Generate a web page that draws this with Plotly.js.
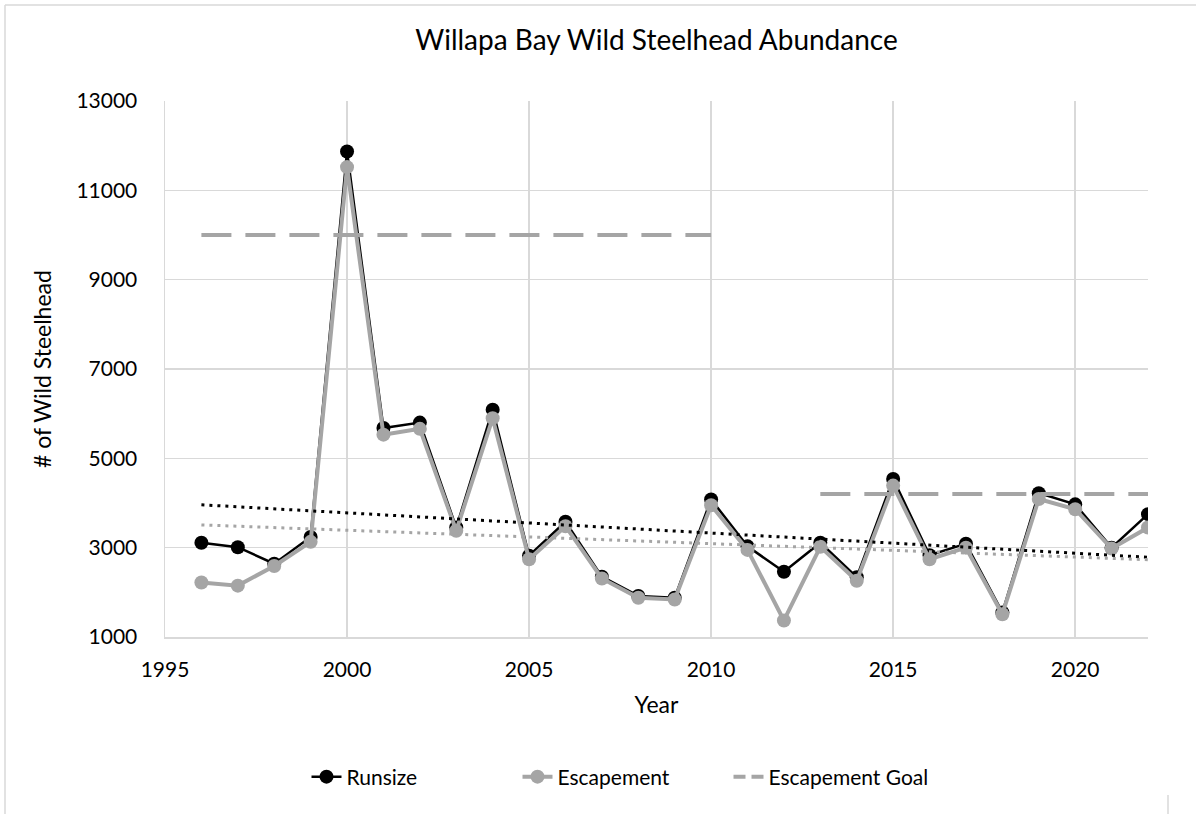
<!DOCTYPE html>
<html><head><meta charset="utf-8">
<script src="https://cdn.plot.ly/plotly-3.0.1.min.js"></script>
<style>html,body{margin:0;padding:0;background:#fff}#chart{width:1196px;height:814px}</style>
</head><body><div id="chart"></div>
<script>
const years = [1996,1997,1998,1999,2000,2001,2002,2003,2004,2005,2006,2007,2008,2009,2010,2011,2012,2013,2014,2015,2016,2017,2018,2019,2020,2021,2022];
const runsize = [3110,3010,2640,3240,11870,5680,5800,3450,6090,2820,3580,2350,1920,1880,4080,3030,2460,3110,2340,4540,2830,3090,1550,4220,3970,3000,3750];
const escapement = [2220,2150,2590,3130,11520,5530,5660,3380,5900,2740,3480,2310,1880,1840,3950,2950,1370,3020,2260,4390,2740,3000,1510,4090,3860,2980,3450];
const escapementGoal = [10000,10000,10000,10000,10000,10000,10000,10000,10000,10000,10000,10000,10000,10000,10000,null,null,4200,4200,4200,4200,4200,4200,4200,4200,4200,4200];
const trendYears = [1996, 2022];
const runsizeTrend = [3960, 2785];
const escapementTrend = [3510, 2730];
const xTickVals = [1995, 2000, 2005, 2010, 2015, 2020];
const yTickVals = [1000, 3000, 5000, 7000, 9000, 11000, 13000];

const W = 1196, H = 814, L = 165, R = 48, T = 101, B = 177;
const pw = W - L - R, ph = H - T - B;
const px = x => (x - L) / pw;
const py = y => (H - B - y) / ph;

const FONT = 'Lato, "Open Sans", sans-serif';
const GREY = '#A5A5A5';
const GRID = '#D9D9D9';

const traces = [
  {x: years, y: runsize, name: 'Runsize', type: 'scatter', mode: 'lines+markers',
   line: {color: '#000000', width: 2.5}, marker: {color: '#000000', size: 14}},
  {x: years, y: escapement, name: 'Escapement', type: 'scatter', mode: 'lines+markers',
   line: {color: GREY, width: 4}, marker: {color: GREY, size: 14}},
  // legend entry for the goal series (shorter dash so the legend sample shows two dashes)
  {x: [null], y: [null], name: 'Escapement Goal', type: 'scatter', mode: 'lines',
   line: {color: GREY, width: 4, dash: '12px,6px'}, hoverinfo: 'skip'},
  {x: years, y: escapementGoal, name: 'Escapement Goal', showlegend: false, type: 'scatter', mode: 'lines',
   connectgaps: false, line: {color: GREY, width: 4, dash: '30px,14px'}},
  {x: trendYears, y: runsizeTrend, name: 'Runsize trend', showlegend: false, type: 'scatter', mode: 'lines',
   line: {color: '#000000', width: 3, dash: '3px,5px'}, hoverinfo: 'skip'},
  {x: trendYears, y: escapementTrend, name: 'Escapement trend', showlegend: false, type: 'scatter', mode: 'lines',
   line: {color: GREY, width: 3, dash: '3px,5px'}, hoverinfo: 'skip'}
];

const layout = {
  width: W, height: H,
  margin: {l: L, r: R, t: T, b: B, pad: 0},
  paper_bgcolor: '#ffffff', plot_bgcolor: '#ffffff',
  font: {family: FONT, color: '#000000', size: 21},
  showlegend: true,
  title: {text: 'Willapa Bay Wild Steelhead Abundance', font: {family: FONT, size: 28, color: '#000000'},
          xref: 'paper', x: 0.5, xanchor: 'center', yref: 'container', y: 1 - 40 / H, yanchor: 'middle'},
  xaxis: {
    range: [1995, 2022], tickvals: xTickVals, ticktext: xTickVals.map(String),
    showgrid: true, gridcolor: GRID, gridwidth: 1.5,
    showline: true, linecolor: GRID, linewidth: 1.5,
    zeroline: false, ticks: 'outside', ticklen: 13, tickcolor: 'rgba(0,0,0,0)',
    tickfont: {family: FONT, size: 21, color: '#000000'},
    title: {text: 'Year', font: {family: FONT, size: 23, color: '#000000'}, standoff: 17},
    automargin: false, fixedrange: true
  },
  yaxis: {
    range: [1000, 13000], tickvals: yTickVals, ticktext: yTickVals.map(String),
    showgrid: true, gridcolor: GRID, gridwidth: 1.5,
    showline: true, linecolor: GRID, linewidth: 1.5,
    zeroline: false, ticks: 'outside', ticklen: 22, tickcolor: 'rgba(0,0,0,0)',
    tickfont: {family: FONT, size: 21, color: '#000000'},
    title: {text: '# of Wild Steelhead', font: {family: FONT, size: 23, color: '#000000'}, standoff: 18},
    automargin: false, fixedrange: true
  },
  legend: {
    orientation: 'h', x: px(623), xanchor: 'center', y: py(777), yanchor: 'middle',
    font: {family: FONT, size: 21, color: '#000000'}, bgcolor: 'rgba(0,0,0,0)',
    traceorder: 'normal', entrywidth: 166
  },
  shapes: [
    {type: 'line', xref: 'paper', yref: 'paper', x0: px(5), x1: px(5), y0: py(5), y1: py(814), line: {color: GRID, width: 1.5}},
    {type: 'line', xref: 'paper', yref: 'paper', x0: px(5), x1: px(1196), y0: py(5), y1: py(5), line: {color: GRID, width: 1.5}},
    {type: 'line', xref: 'paper', yref: 'paper', x0: px(1168), x1: px(1168), y0: py(795), y1: py(814), line: {color: GRID, width: 1.5}}
  ]
};

Plotly.newPlot('chart', traces, layout, {displayModeBar: false, staticPlot: true});
</script>
</body></html>
